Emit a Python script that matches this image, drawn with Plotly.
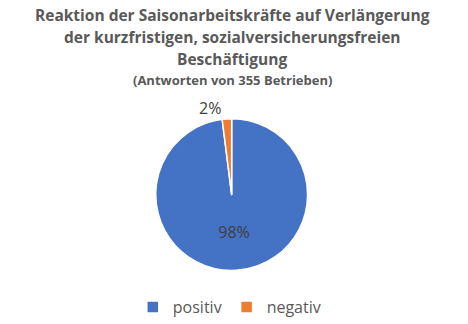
import plotly.graph_objects as go

# Answers of 355 businesses
categories = ["positiv", "negativ"]
shares = [98, 2]
colors = ["#4472C4", "#ED7D31"]

title_lines = [
    "Reaktion der Saisonarbeitskräfte auf Verlängerung",
    "der kurzfristigen, sozialversicherungsfreien",
    "Beschäftigung",
]
subtitle = "(Antworten von 355 Betrieben)"

FONT = "Open Sans"
GREY = "#595959"

fig = go.Figure(
    go.Pie(
        labels=categories,
        values=shares,
        sort=False,
        direction="clockwise",
        rotation=0,
        marker=dict(colors=colors, line=dict(color="white", width=1.5)),
        texttemplate="%{value}%",
        textposition=["inside", "outside"],
        textfont=dict(family=FONT, size=16, color="#404040"),
        insidetextorientation="horizontal",
        domain=dict(x=[0.3, 0.69], y=[0.152, 0.628]),
        hoverinfo="label+percent",
    )
)

ann = []
for i, line in enumerate(title_lines):
    ann.append(dict(
        text=f"<b>{line}</b>", x=232 / 468, y=1 - (15 + 22.5 * i) / 324,
        xref="paper", yref="paper", showarrow=False, xanchor="center", yanchor="middle",
        font=dict(family=FONT, size=15.5, color=GREY),
    ))
ann.append(dict(
    text=f"<b>{subtitle}</b>", x=232 / 468, y=1 - 81 / 324,
    xref="paper", yref="paper", showarrow=False, xanchor="center", yanchor="middle",
    font=dict(family=FONT, size=13, color=GREY),
))

fig.update_layout(
    width=468,
    height=324,
    margin=dict(l=0, r=0, t=0, b=0),
    paper_bgcolor="white",
    plot_bgcolor="white",
    annotations=ann,
    showlegend=True,
    legend=dict(
        orientation="h", x=0.49, xanchor="center", y=1 - 312 / 324, yanchor="middle",
        font=dict(family=FONT, size=16, color=GREY),
        itemwidth=30,
        tracegroupgap=0,
    ),
)

fig.write_html("out.html")
